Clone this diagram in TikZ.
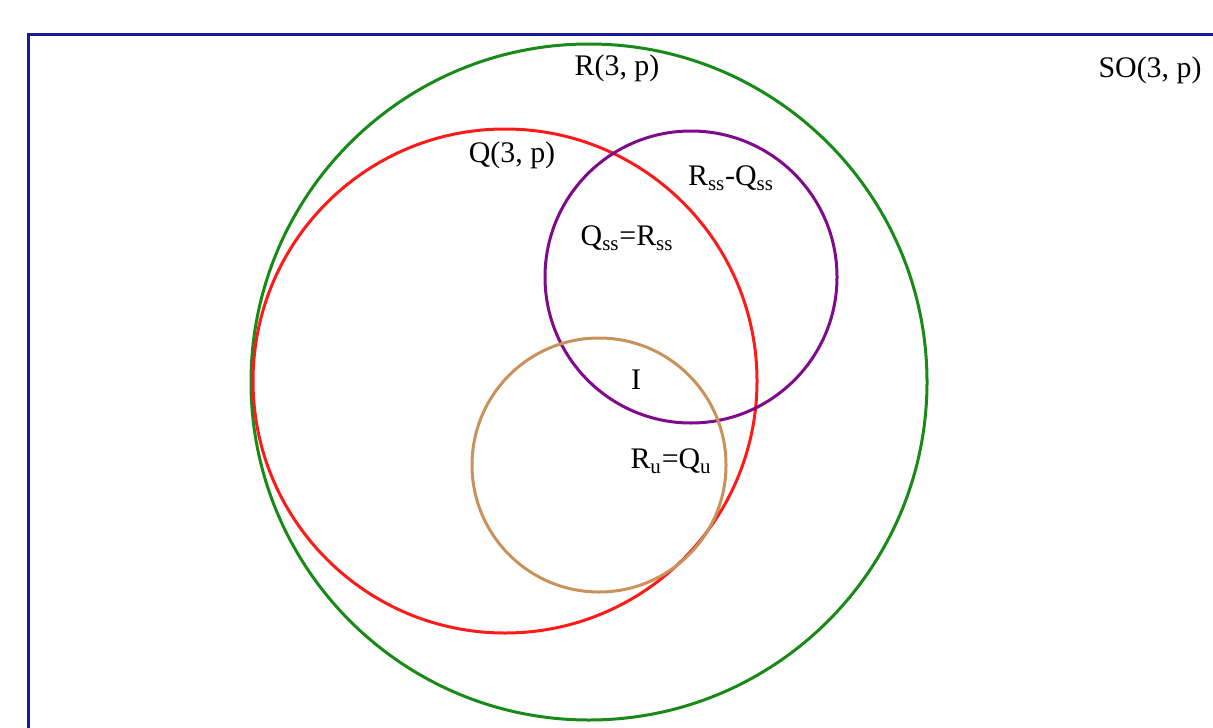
\documentclass[tikz,border=0pt]{standalone}
\usepackage{fontspec}
\setmainfont{Liberation Serif}
\usepackage{xcolor}
\usepackage{tikz}
\usetikzlibrary{positioning}
\definecolor{SetNavy}{HTML}{1A1A99}
\definecolor{SetGreen}{HTML}{188A18}
\definecolor{SetRed}{HTML}{FF1A1A}
\definecolor{SetPurple}{HTML}{800A8C}
\definecolor{SetTan}{HTML}{C8925A}
\newcommand{\lowtxt}[1]{\textsubscript{#1}}
\tikzset{
  setline/.style={line width=0.6mm},
  setlabel/.style={inner sep=0pt,font=\fontsize{17}{20}\selectfont,text=black}
}
\begin{document}
\begin{tikzpicture}[x=0.2mm,y=-0.2mm]
\useasboundingbox (0,0) rectangle (1213,727);
% universe frame
\draw[line width=0.6mm,draw=SetNavy] (28,740)--(28,35)--(1230,35);
% sets
\draw[setline,draw=SetGreen] (589,382) circle[radius=338];
\draw[setline,draw=SetRed] (505,381) circle[radius=252];
\draw[setline,draw=SetPurple] (691,277) circle[radius=146];
\draw[setline,draw=SetTan] (599,465) circle[radius=127];
% labels
\node[setlabel] (so) at (1150,70) {SO(3, p)};
\node[setlabel] (r) at (617,68) {R(3, p)};
\node[setlabel] (q) at (512,155) {Q(3, p)};
\node[setlabel] (rq) at (731,178) {R\lowtxt{ss}-Q\lowtxt{ss}};
\node[setlabel] (qr) at (627,238) {Q\lowtxt{ss}=R\lowtxt{ss}};
\node[setlabel] (i) at (636,380) {I};
\node[setlabel] (ru) at (671,461) {R\lowtxt{u}=Q\lowtxt{u}};
\end{tikzpicture}
\end{document}
